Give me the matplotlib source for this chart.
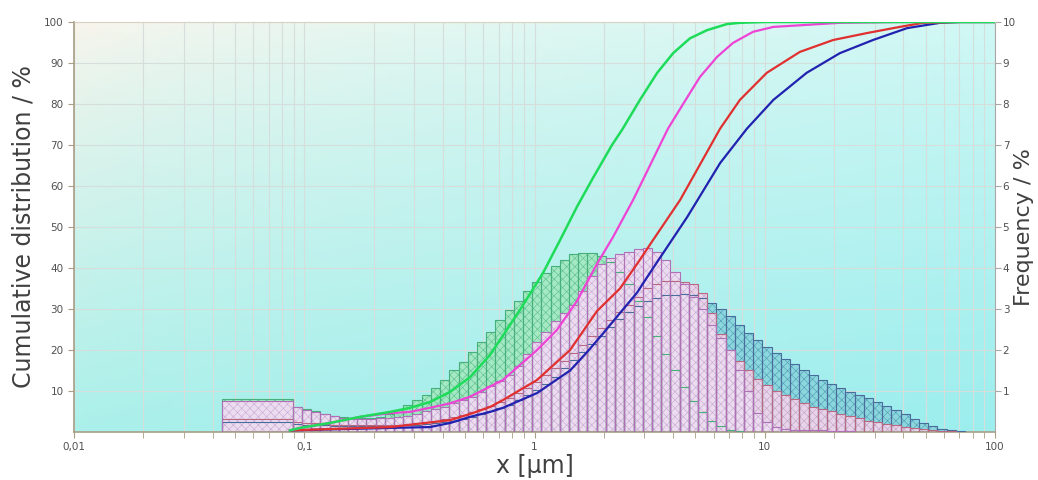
""" Particle size distribution: cumulative curves (left) and class frequencies (right)"""

import numpy as np
import matplotlib
matplotlib.use("Agg")
import matplotlib.pyplot as plt
from matplotlib.ticker import FixedLocator, FixedFormatter, LogLocator, NullFormatter

# coarse first class and then 25 classes per decade starting at 0.0891 um
first_class = [0.044, 0.0891]
class_edges = 10 ** (-1.05 + 0.04 * np.arange(78))

# frequency / % of the coarse first class
first_green = 0.80
first_pink = 0.76
first_red = 0.31
first_blue = 0.24

# frequency / % per class, starting at the 0.0891 um class
freq_green = [0.62, 0.55, 0.50, 0.45, 0.39, 0.36, 0.33, 0.33, 0.34, 0.37,
              0.45, 0.54, 0.66, 0.78, 0.90, 1.07, 1.27, 1.50, 1.70, 1.95,
              2.20, 2.45, 2.73, 2.98, 3.20, 3.45, 3.66, 3.88, 4.05, 4.20,
              4.33, 4.37, 4.37, 4.30, 4.15, 3.90, 3.60, 3.20, 2.80, 2.35,
              1.90, 1.50, 1.10, 0.75, 0.48, 0.28, 0.14, 0.06, 0.02]
freq_pink = [0.60, 0.54, 0.48, 0.43, 0.38, 0.35, 0.32, 0.32, 0.32, 0.33,
             0.34, 0.37, 0.40, 0.45, 0.50, 0.56, 0.62, 0.70, 0.78, 0.85,
             0.98, 1.12, 1.25, 1.40, 1.60, 1.90, 2.20, 2.45, 2.70, 2.90,
             3.10, 3.45, 3.80, 4.10, 4.25, 4.35, 4.40, 4.46, 4.49, 4.40,
             4.20, 3.90, 3.60, 3.30, 3.00, 2.60, 2.30, 2.00, 1.50, 1.00,
             0.46, 0.25, 0.12, 0.07, 0.05, 0.05, 0.04, 0.04, 0.03, 0.03, 0.02]
freq_red = [0.25, 0.23, 0.21, 0.19, 0.18, 0.17, 0.16, 0.16, 0.16, 0.17,
            0.17, 0.18, 0.20, 0.22, 0.25, 0.28, 0.32, 0.36, 0.42, 0.48,
            0.55, 0.63, 0.72, 0.82, 0.95, 1.08, 1.22, 1.38, 1.55, 1.74,
            1.93, 2.13, 2.33, 2.53, 2.73, 2.92, 3.10, 3.30, 3.50, 3.62,
            3.68, 3.68, 3.66, 3.60, 3.40, 2.90, 2.40, 2.00, 1.72, 1.50,
            1.30, 1.15, 1.00, 0.90, 0.80, 0.70, 0.62, 0.56, 0.50, 0.44,
            0.38, 0.33, 0.28, 0.24, 0.20, 0.16, 0.13, 0.10, 0.07, 0.05,
            0.03, 0.02]
freq_blue = [0.20, 0.18, 0.17, 0.16, 0.15, 0.14, 0.14, 0.14, 0.14, 0.15,
             0.15, 0.16, 0.17, 0.18, 0.20, 0.22, 0.25, 0.28, 0.32, 0.37,
             0.43, 0.50, 0.58, 0.67, 0.78, 0.90, 1.03, 1.18, 1.35, 1.55,
             1.75, 1.95, 2.15, 2.35, 2.55, 2.75, 2.92, 3.08, 3.20, 3.28,
             3.33, 3.35, 3.36, 3.35, 3.28, 3.15, 3.00, 2.82, 2.62, 2.42,
             2.25, 2.08, 1.93, 1.79, 1.65, 1.50, 1.38, 1.26, 1.16, 1.07,
             0.98, 0.90, 0.82, 0.73, 0.63, 0.54, 0.43, 0.32, 0.22, 0.14,
             0.08, 0.04, 0.02]

# cumulative distribution / %
cum_green_x = [0.0867, 0.0959, 0.129, 0.175, 0.236, 0.288, 0.351, 0.430, 0.525, 0.641,
               0.865, 1.089, 1.291, 1.531, 1.796, 2.17, 2.40, 2.87, 3.41, 4.00,
               4.73, 5.61, 6.86, 7.80, 10.0, 100.0]
cum_green_y = [0.4, 1.0, 2.2, 3.7, 4.9, 5.9, 7.3, 9.8, 13.4, 18.8,
               29.8, 38.8, 46.8, 55.0, 62.0, 70.0, 73.7, 81.0, 87.6, 92.4,
               96.0, 98.0, 99.5, 99.8, 100.0, 100.0]
cum_pink_x = [0.0867, 0.0959, 0.129, 0.175, 0.236, 0.288, 0.351, 0.430, 0.525, 0.730,
              1.026, 1.252, 1.531, 1.868, 2.19, 2.68, 3.80, 4.42, 5.23, 6.21,
              7.28, 8.89, 10.9, 15.2, 21.2, 29.5, 38.6, 100.0]
cum_pink_y = [0.4, 1.0, 2.2, 3.7, 4.6, 4.9, 5.9, 7.0, 8.6, 12.7,
              20.0, 24.9, 32.0, 41.0, 47.5, 56.6, 74.0, 80.0, 86.6, 91.5,
              94.9, 97.6, 98.8, 99.3, 99.8, 99.9, 100.0, 100.0]
cum_red_x = [0.0867, 0.236, 0.430, 0.525, 0.641, 0.730, 1.026, 1.427, 1.868, 2.35,
             2.79, 3.27, 4.29, 6.40, 7.80, 10.2, 14.2, 19.8, 27.8, 38.6,
             48.7, 70.5, 100.0]
cum_red_y = [0.4, 1.2, 2.9, 4.4, 6.1, 7.8, 12.7, 20.0, 29.5, 35.0,
             41.0, 46.8, 56.6, 74.0, 81.0, 87.6, 92.7, 95.6, 97.3, 98.8,
             99.8, 100.0, 100.0]
cum_blue_x = [0.0867, 0.236, 0.351, 0.430, 0.525, 0.641, 0.730, 1.026, 1.427, 1.692,
              1.983, 2.35, 2.79, 3.17, 4.60, 6.40, 8.37, 10.9, 15.2, 21.2,
              29.5, 41.5, 57.7, 70.5, 100.0]
cum_blue_y = [0.4, 1.0, 1.2, 2.2, 3.7, 4.9, 5.9, 9.5, 15.0, 19.5,
              24.0, 29.0, 34.0, 38.8, 52.4, 65.6, 74.0, 81.0, 87.6, 92.4,
              95.6, 98.5, 99.8, 100.0, 100.0]

plt.rcParams['hatch.linewidth'] = 0.4

fig = plt.figure(figsize=(10.38, 4.80), dpi=100)
pos = [0.0713, 0.10, 0.8873, 0.8542]

# background gradient: cream at top left, cyan towards bottom right
bg = fig.add_axes(pos, zorder=-1)
tl = np.array([250, 245, 236]) / 255
tr = np.array([210, 248, 245]) / 255
bl = np.array([172, 240, 234]) / 255
br = np.array([156, 238, 238]) / 255
u = np.linspace(0, 1, 200)[None, :, None] ** 0.7
v = np.linspace(0, 1, 100)[:, None, None] ** 0.8
grad = (1 - v) * ((1 - u) * tl + u * tr) + v * ((1 - u) * bl + u * br)
bg.imshow(grad, aspect='auto', extent=[0, 1, 0, 1])
bg.axis('off')

ax = fig.add_axes(pos)
ax.patch.set_visible(False)
ax.set_xscale('log')
ax2 = ax.twinx()  # cumulative axis, created first so tick sides can be set afterwards

ax.set_xlim(0.01, 100)
ax.set_ylim(0, 10)

widths = np.diff(class_edges)
series = [
    (freq_blue, first_blue, '#8cd6de', '#4e9cb4', '#4a6c9c'),
    (freq_green, first_green, '#a4e8c4', '#5cc08c', '#46b07a'),
    (freq_red, first_red, '#e8d4ea', '#c4a0c4', '#b86880'),
    (freq_pink, first_pink, '#ecdcf0', '#c8a8d4', '#b070b8'),
]
# fills with hatch
for vals, first, fill, hatchcol, edge in series:
    n = len(vals)
    ax.bar(class_edges[:n], vals, width=widths[:n], align='edge',
           color=fill, edgecolor=hatchcol, linewidth=0, hatch='xxxx', zorder=2)
    ax.bar(first_class[0], first, width=first_class[1] - first_class[0], align='edge',
           color=fill, edgecolor=hatchcol, linewidth=0, hatch='xxxx', zorder=2)
# outlines on top so inner steps stay visible
for vals, first, fill, hatchcol, edge in series:
    n = len(vals)
    ax.bar(class_edges[:n], vals, width=widths[:n], align='edge',
           facecolor='none', edgecolor=edge, linewidth=0.8, zorder=3)
    ax.bar(first_class[0], first, width=first_class[1] - first_class[0], align='edge',
           facecolor='none', edgecolor=edge, linewidth=0.8, zorder=3)

# grid
ax.xaxis.set_major_locator(FixedLocator([0.01, 0.1, 1, 10, 100]))
ax.xaxis.set_major_formatter(FixedFormatter(['0,01', '0,1', '1', '10', '100']))
ax.xaxis.set_minor_locator(LogLocator(base=10, subs=np.arange(2, 10)))
ax.xaxis.set_minor_formatter(NullFormatter())
ax.set_yticks(np.arange(1, 11))
ax.grid(True, which='both', axis='x', color='#d6dedb', linewidth=0.8, zorder=1)
ax.grid(True, which='major', axis='y', color='#d6dedb', linewidth=0.8, zorder=1)
ax.set_axisbelow(True)

ax.yaxis.tick_right()
ax.yaxis.set_label_position('right')
ax.set_ylabel('Frequency / %', fontsize=16, color='#404040')
ax.yaxis.set_label_coords(1.0205, 0.5)
ax.set_xlabel('x [\u00b5m]', fontsize=17, color='#404040', labelpad=1)

axis_col = '#a89e86'
for side in ['left', 'bottom']:
    ax.spines[side].set_color(axis_col)
    ax.spines[side].set_linewidth(1.2)
ax.spines['right'].set_color('#a8a8a8')
ax.spines['top'].set_color('#d8d2c4')
ax.tick_params(axis='x', which='both', direction='out', colors=axis_col,
               labelcolor='#505050', labelsize=7.5, length=4)
ax.tick_params(axis='y', direction='out', colors='#a8a8a8',
               labelcolor='#505050', labelsize=7.5, length=4, pad=1.5)

# cumulative curves
ax2.set_ylim(0, 100)
ax2.yaxis.tick_left()
ax2.yaxis.set_label_position('left')
ax2.set_yticks(np.arange(10, 101, 10))
for s in ax2.spines.values():
    s.set_visible(False)
ax2.tick_params(axis='y', direction='out', colors=axis_col,
                labelcolor='#505050', labelsize=7.5, length=4)
ax2.set_ylabel('Cumulative distribution / %', fontsize=17, color='#404040', labelpad=6)

ax2.plot(cum_blue_x, cum_blue_y, color='#2222b0', linewidth=1.6, zorder=5)
ax2.plot(cum_red_x, cum_red_y, color='#e03030', linewidth=1.6, zorder=5)
ax2.plot(cum_pink_x, cum_pink_y, color='#ee44d6', linewidth=1.6, zorder=5)
ax2.plot(cum_green_x, cum_green_y, color='#1edc5a', linewidth=1.8, zorder=5)
ax2.set_xlim(0.01, 100)

fig.savefig('out.png', dpi=100)
